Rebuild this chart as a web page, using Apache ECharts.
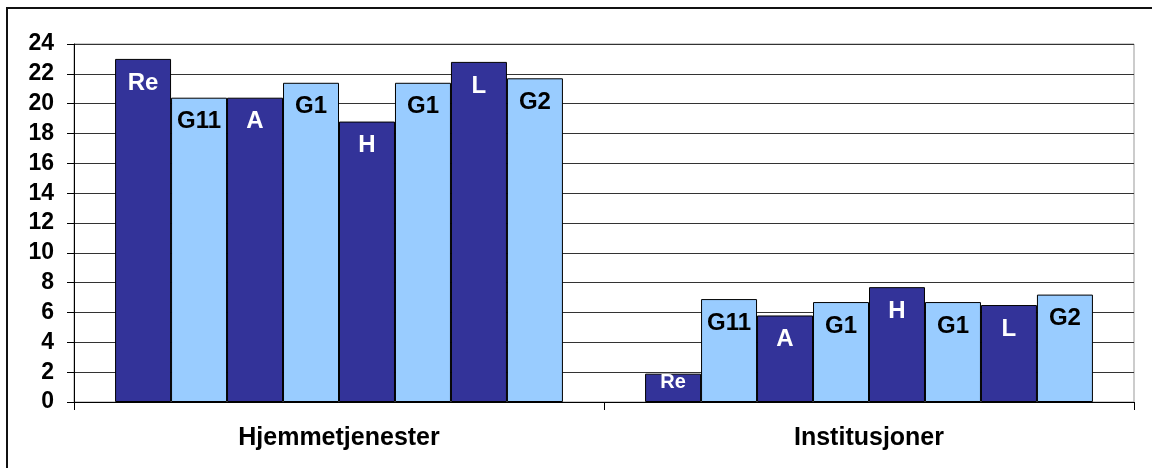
<!DOCTYPE html>
<html>
<head>
<meta charset="utf-8">
<script src="https://cdn.jsdelivr.net/npm/echarts@6/dist/echarts.min.js"></script>
<style>
  html, body { margin: 0; padding: 0; background: #fff; }
  #chart { width: 1152px; height: 468px; }
</style>
</head>
<body>
<div id="chart"></div>
<script>
// Categories on the x axis
const categories = ['Hjemmetjenester', 'Institusjoner'];

// One series per group; label text drawn at the top of each bar
const seriesNames = ['Re', 'G11', 'A', 'G1', 'H', 'G1', 'L', 'G2'];

// Values per series: [Hjemmetjenester, Institusjoner]
const valRe  = [23.0, 1.9];
const valG11 = [20.4, 6.9];
const valA   = [20.4, 5.8];
const valG1a = [21.4, 6.7];
const valH   = [18.8, 7.7];
const valG1b = [21.4, 6.7];
const valL   = [22.8, 6.5];
const valG2  = [21.7, 7.2];

const seriesValues = [valRe, valG11, valA, valG1a, valH, valG1b, valL, valG2];

// Y axis range
const yMin = 0, yMax = 24, yStep = 2;

const DARK = '#333399';
const LIGHT = '#99CCFF';
const FONT = "'Liberation Sans', Arial, Helvetica, sans-serif";

const series = seriesNames.map((name, i) => {
  const dark = i % 2 === 0;
  return {
    name: name,
    type: 'bar',
    barGap: '0%',
    barCategoryGap: '15.5%',
    itemStyle: { color: dark ? DARK : LIGHT, borderColor: '#000', borderWidth: 1 },
    label: {
      show: true,
      position: 'insideTop',
      distance: 12,
      formatter: name,
      color: dark ? '#fff' : '#000',
      fontFamily: FONT,
      fontWeight: 'bold',
      fontSize: 24
    },
    // short bars get a smaller label sitting right at the bar top
    data: seriesValues[i].map(v => v < 3
      ? { value: v, label: { fontSize: 20, distance: -1 } }
      : v)
  };
});

const chart = echarts.init(document.getElementById('chart'), null, { renderer: 'canvas' });
chart.setOption({
  animation: false,
  backgroundColor: '#fff',
  graphic: [{
    type: 'rect',
    shape: { x: 7, y: 8, width: 1200, height: 520 },
    style: { fill: 'none', stroke: '#111', lineWidth: 2 },
    silent: true,
    z: 100
  }],
  grid: {
    left: 74, right: 18, top: 44, bottom: 66,
    show: true, borderColor: '#999', borderWidth: 1, backgroundColor: 'transparent'
  },
  xAxis: {
    type: 'category',
    data: categories,
    axisLine: { lineStyle: { color: '#000', width: 1 } },
    axisTick: { show: true, length: 8, lineStyle: { color: '#000' } },
    axisLabel: {
      margin: 24,
      color: '#000',
      fontFamily: FONT,
      fontWeight: 'bold',
      fontSize: 25
    }
  },
  yAxis: {
    type: 'value',
    min: yMin, max: yMax, interval: yStep,
    axisLine: { show: true, lineStyle: { color: '#000', width: 1 } },
    axisTick: { show: true, length: 7, lineStyle: { color: '#000' } },
    splitLine: { show: true, lineStyle: { color: '#333', width: 1 } },
    axisLabel: {
      margin: 20,
      color: '#000',
      fontFamily: FONT,
      fontWeight: 'bold',
      fontSize: 23
    }
  },
  series: series
});
</script>
</body>
</html>
